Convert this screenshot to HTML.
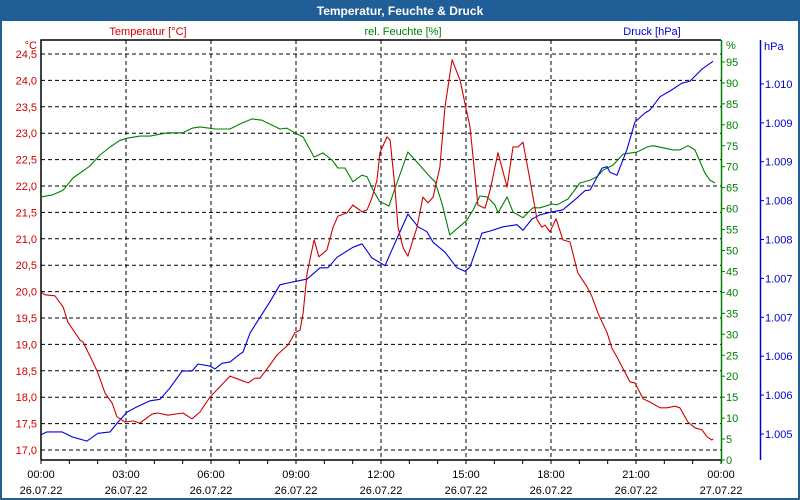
<!DOCTYPE html>
<html><head><meta charset="utf-8">
<style>
html,body{margin:0;padding:0;background:#fff;}
#wrap{position:relative;width:800px;height:500px;overflow:hidden;font-family:"Liberation Sans","DejaVu Sans",sans-serif;}
svg text{font-family:"Liberation Sans","DejaVu Sans",sans-serif;}
</style></head>
<body>
<div id="wrap">
<svg id="chart" width="800" height="500">
  <rect x="0" y="0" width="800" height="500" fill="#fff"/>
  <rect x="0" y="0" width="800" height="21" fill="#1f5e96"/>
  <rect x="1" y="1" width="798" height="498" fill="none" stroke="#1f5e96" stroke-width="2"/>
  <text x="400" y="15" text-anchor="middle" font-size="12" font-weight="bold" fill="#fff">Temperatur, Feuchte &amp; Druck</text>
  <text x="148" y="35" text-anchor="middle" font-size="11" fill="#d00000">Temperatur [°C]</text>
  <text x="403" y="35" text-anchor="middle" font-size="11" fill="#008000">rel. Feuchte [%]</text>
  <text x="652" y="35" text-anchor="middle" font-size="11" fill="#0000c8">Druck [hPa]</text>
  <g id="grid"></g>
  <g id="axes"></g>
  <g id="series"></g>
</svg>
</div>
<script>
const xTickLabels = ["00:00","03:00","06:00","09:00","12:00","15:00","18:00","21:00","00:00"];
const xDateLabels = ["26.07.22","26.07.22","26.07.22","26.07.22","26.07.22","26.07.22","26.07.22","26.07.22","27.07.22"];
const tempTicks = [17.0,17.5,18.0,18.5,19.0,19.5,20.0,20.5,21.0,21.5,22.0,22.5,23.0,23.5,24.0,24.5];
const humTicks = [0,5,10,15,20,25,30,35,40,45,50,55,60,65,70,75,80,85,90,95];
const presTicks = [1.005,1.00555,1.0061,1.00665,1.0072,1.00775,1.0083,1.00885,1.0094,1.00995];
const presTickLabels = ["1.005","1.006","1.006","1.007","1.007","1.008","1.008","1.009","1.009","1.010"];

const tempHours = [0,.14,.49,.78,.95,1.38,1.48,1.80,2.01,2.26,2.51,2.68,2.96,3.25,3.49,3.92,4.13,4.48,5.01,5.33,5.61,5.96,6.21,6.67,7.02,7.31,7.55,7.73,8.08,8.33,8.72,8.96,9.14,9.25,9.39,9.64,9.81,10.09,10.31,10.48,10.80,11.01,11.33,11.51,11.68,11.86,11.96,12.21,12.32,12.49,12.60,12.78,12.95,13.27,13.48,13.66,13.84,14.08,14.26,14.51,14.79,14.96,15.14,15.42,15.67,15.85,16.13,16.45,16.66,16.84,17.01,17.26,17.51,17.68,17.79,17.96,18.18,18.42,18.67,18.95,19.27,19.45,19.66,19.98,20.15,20.33,20.79,20.96,21.25,21.49,21.85,22.09,22.38,22.55,22.83,23.08,23.33,23.51,23.68,23.72];
const tempValues = [19.99,19.94,19.92,19.71,19.42,19.08,19.05,18.70,18.46,18.08,17.89,17.63,17.53,17.55,17.51,17.68,17.70,17.66,17.70,17.59,17.72,18.00,18.14,18.40,18.33,18.27,18.36,18.36,18.61,18.80,18.99,19.22,19.27,19.59,20.35,20.98,20.66,20.79,21.22,21.43,21.49,21.64,21.51,21.55,21.77,22.11,22.63,22.93,22.87,21.98,21.22,20.83,20.67,21.22,21.79,21.68,21.79,22.36,23.50,24.39,24.01,23.57,23.12,21.64,21.58,21.92,22.63,21.98,22.74,22.74,22.83,22.11,21.36,21.22,21.26,21.13,21.38,20.98,20.94,20.35,20.09,19.90,19.59,19.22,18.93,18.76,18.29,18.27,17.97,17.91,17.80,17.80,17.83,17.80,17.53,17.42,17.38,17.25,17.19,17.21];

const humHours = [0,.42,.78,1.13,1.73,2.08,2.44,2.79,3.04,3.49,3.85,4.45,5.01,5.33,5.61,6.14,6.67,7.02,7.45,7.80,8.43,8.68,8.96,9.25,9.64,9.95,10.27,10.48,10.73,11.01,11.33,11.51,11.72,11.96,12.14,12.28,12.56,12.95,13.27,13.73,13.91,14.15,14.43,15.04,15.25,15.49,15.74,16.02,16.13,16.45,16.66,17.01,17.36,17.61,18.04,18.21,18.60,19.02,19.38,19.62,19.84,20.19,20.54,21.04,21.39,21.60,22.31,22.55,22.83,23.08,23.43,23.61,23.79];
const humValues = [62.8,63.3,64.4,67.3,70.2,72.8,74.7,76.3,76.8,77.3,77.3,78.1,78.1,79.2,79.5,79.0,79.0,80.2,81.4,81.1,79.0,79.2,78.1,77.1,72.3,73.3,71.6,69.7,69.7,66.4,68.0,67.6,64.4,61.6,61.1,60.6,66.1,73.5,71.1,67.6,66.4,61.3,53.7,57.3,59.7,63.0,62.8,60.9,59.0,62.8,59.2,57.8,60.2,60.2,61.1,60.9,62.3,66.1,66.8,67.6,69.2,70.4,73.0,73.5,74.7,75.0,74.0,74.0,75.0,74.0,68.5,66.8,66.1];

const presHours = [0,.21,.74,1.09,1.62,2.01,2.44,2.72,3.04,3.32,3.85,4.20,4.55,4.98,5.33,5.54,5.96,6.14,6.39,6.67,7.02,7.13,7.38,7.73,8.08,8.43,8.89,9.39,9.85,10.13,10.45,11.01,11.33,11.68,12.14,12.49,12.95,13.31,13.62,13.84,14.26,14.68,14.96,15.14,15.56,15.85,16.31,16.80,17.01,17.33,17.61,18.04,18.42,18.92,19.20,19.38,19.80,19.98,20.08,20.33,20.68,20.96,21.32,21.49,21.85,22.20,22.62,22.91,23.33,23.54,23.72];
const presValues = [1.00499,1.00503,1.00503,1.00496,1.00490,1.00501,1.00503,1.00517,1.00531,1.00537,1.00547,1.00549,1.00565,1.00589,1.00589,1.00599,1.00596,1.00592,1.00600,1.00602,1.00613,1.00616,1.00643,1.00665,1.00687,1.00711,1.00715,1.00719,1.00735,1.00735,1.00750,1.00764,1.00769,1.00749,1.00738,1.00770,1.00811,1.00793,1.00786,1.00771,1.00757,1.00735,1.00730,1.00736,1.00784,1.00787,1.00793,1.00796,1.00788,1.00804,1.00810,1.00814,1.00817,1.00834,1.00844,1.00845,1.00876,1.00878,1.00870,1.00866,1.00902,1.00941,1.00954,1.00958,1.00977,1.00985,1.00996,1.00999,1.01016,1.01022,1.01027];

const NS = "http://www.w3.org/2000/svg";
const L = 41, R = 721, T = 40, B = 460;
function xS(h){ return L + h * (R - L) / 24; }
function tY(v){ return 450 - (v - 17) * 52.8; }
function hY(v){ return 460 - v * 4.19; }
function pY(v){ return 434 - (v - 1.005) / 0.00001414; }
function mk(tag, attrs, parent){
  const e = document.createElementNS(NS, tag);
  for (const k in attrs) e.setAttribute(k, attrs[k]);
  parent.appendChild(e);
  return e;
}
const grid = document.getElementById('grid');
const axes = document.getElementById('axes');
const series = document.getElementById('series');

// horizontal grid lines (temperature)
tempTicks.forEach((v, i) => {
  const y = tY(v);
  const ln = mk('line', {x1:L, x2:R, y1:y, y2:y, stroke:'#000', 'stroke-dasharray':'4,3', 'stroke-width':1}, grid);
  
  
  const tx = mk('text', {x:37, y:y+4, 'text-anchor':'end', 'font-size':11, fill:'#d00000'}, axes);
  tx.textContent = v.toFixed(1).replace('.', ',');
  
  
});
const degU = mk('text', {x:37, y:49, 'text-anchor':'end', 'font-size':11, fill:'#d00000'}, axes);
degU.textContent = '°C';



// vertical grid + x labels
xTickLabels.forEach((lab, i) => {
  const x = xS(i * 3);
  if (i > 0 && i < 8) {
    const ln = mk('line', {x1:x, x2:x, y1:T, y2:B, stroke:'#000', 'stroke-dasharray':'4,3', 'stroke-width':1}, grid);
    
    
  }
  const t1 = mk('text', {x:x, y:478, 'text-anchor':'middle', 'font-size':11, fill:'#000'}, axes);
  t1.textContent = lab;
  
  
  const t2 = mk('text', {x:x, y:494, 'text-anchor':'middle', 'font-size':11, fill:'#000'}, axes);
  t2.textContent = xDateLabels[i];
  
  
});
for (let h = 0; h <= 24; h++) {
  const x = xS(h);
  const tk = mk('line', {x1:x, x2:x, y1:B, y2:B+4, stroke:'#000'}, axes);
  
  
}
// plot frame
const fr = mk('polyline', {points:`${L},${B} ${L},${T} ${R},${T}`, fill:'none', stroke:'#000', 'stroke-width':1.5}, axes);


const xb = mk('line', {x1:L, x2:R, y1:B, y2:B, stroke:'#000', 'stroke-width':1.5}, axes);



// humidity axis
const ha = mk('line', {x1:R+0.5, x2:R+0.5, y1:T, y2:B+3, stroke:'#008000', 'stroke-width':1.5}, axes);


humTicks.forEach(v => {
  const y = hY(v);
  const tk = mk('line', {x1:R, x2:R+4, y1:y, y2:y, stroke:'#008000'}, axes);
  
  
  const tx = mk('text', {x:R+5, y:y+4, 'font-size':11, fill:'#008000'}, axes);
  tx.textContent = String(v);
  
  
});
const hu = mk('text', {x:R+5, y:49, 'font-size':11, fill:'#008000'}, axes);
hu.textContent = '%';



// pressure axis
const pa = mk('line', {x1:760.5, x2:760.5, y1:T, y2:460, stroke:'#0000c8', 'stroke-width':1.5}, axes);


presTicks.forEach((v, i) => {
  const y = pY(v);
  const tk = mk('line', {x1:760, x2:764, y1:y, y2:y, stroke:'#0000c8'}, axes);
  
  
  const tx = mk('text', {x:765, y:y+4, 'font-size':11, fill:'#0000c8'}, axes);
  tx.textContent = presTickLabels[i];
  
  
});
const pu = mk('text', {x:764, y:50, 'font-size':11, fill:'#0000c8'}, axes);
pu.textContent = 'hPa';



// series lines
function line(hours, vals, yf, color, name){
  const pts = hours.map((h, i) => xS(h).toFixed(1) + ',' + yf(vals[i]).toFixed(1)).join(' ');
  const p = mk('polyline', {points:pts, fill:'none', stroke:color, 'stroke-width':1.1, 'stroke-linejoin':'round'}, series);
  
  
}
line(humHours, humValues, hY, '#008000', 'humidity-line');
line(presHours, presValues, pY, '#0000e0', 'pressure-line');
line(tempHours, tempValues, tY, '#d00000', 'temperature-line');
</script>
</body></html>
